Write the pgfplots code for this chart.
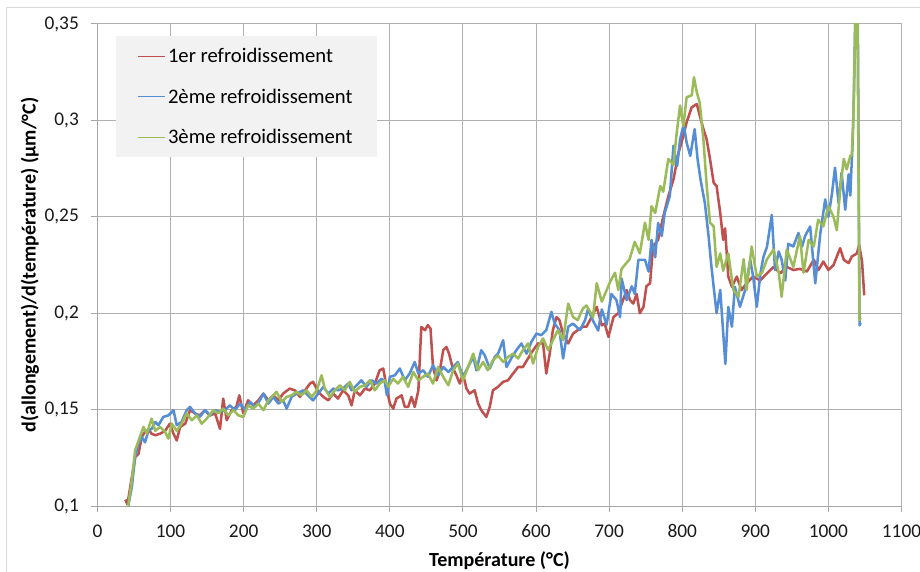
\documentclass[border=0pt]{standalone}
\usepackage{pgfplots}
\pgfplotsset{compat=1.18}
\usepackage{fontspec}
\setmainfont{Carlito}
\definecolor{cred}{HTML}{C0504D}
\definecolor{cblue}{HTML}{558ED5}
\definecolor{cgreen}{HTML}{9BBB59}
\definecolor{gridgray}{HTML}{B0B0B0}
\definecolor{axisgray}{HTML}{A6A6A6}
\definecolor{legendgray}{HTML}{F2F2F2}
\definecolor{bordergray}{HTML}{D9D9D9}
\begin{document}
\begin{tikzpicture}
\useasboundingbox (-73.125pt,-48.75pt) rectangle (616.875pt,379.5pt);
\draw[bordergray, line width=0.75pt] (-67.9pt,-60pt) -- (-67.9pt,373.5pt) -- (640pt,373.5pt);
\begin{axis}[
  at={(0,0)}, anchor=south west,
  scale only axis, width=603pt, height=361.5pt,
  xmin=0, xmax=1100, ymin=0.1, ymax=0.35,
  axis lines=left,
  axis line style={draw=axisgray, line width=0.75pt, -},
  xtick={0,100,...,1100},
  ytick={0.1,0.15,0.2,0.25,0.3,0.35},
  yticklabels={{0,1},{0,15},{0,2},{0,25},{0,3},{0,35}},
  /pgf/number format/assume math mode=true,
  /pgf/number format/1000 sep={},
  tick align=outside,
  major tick length=4.5pt,
  tick style={draw=axisgray, line width=0.75pt},
  grid=major,
  major grid style={draw=gridgray, line width=0.75pt},
  tick label style={font=\fontsize{14.5}{17}\selectfont, text=black!90},
  xticklabel style={yshift=-6pt},
  yticklabel style={xshift=-6pt},
  xlabel={\textbf{Température (°C)}},
  ylabel={\textbf{d(allongement)/d(température) (µm/°C)}},
  label style={font=\fontsize{15}{18}\selectfont},
  xlabel style={at={(axis description cs:0.5,-0.114)}, anchor=center},
  ylabel style={at={(axis description cs:-0.084,0.5)}, anchor=center},
  legend style={at={(0.023,0.975)}, anchor=north west, fill=legendgray, draw=none,
    font=\fontsize{15.5}{18}\selectfont, inner xsep=16pt, inner ysep=7pt, row sep=14pt},
  legend cell align=left,
  legend image code/.code={\draw[#1, line width=0.9pt] (0cm,0cm) -- (0.7cm,0cm);},
  every axis plot/.append style={line width=1.9pt, line join=round},
]
\addplot[cred] table {
38 0.1033
41 0.1009
44 0.108
47 0.115
51.5 0.1254
56 0.127
60.6 0.1358
65 0.1384
70 0.1395
74 0.1375
79 0.1367
85.6 0.1375
92.5 0.139
99 0.1427
104 0.1375
108.4 0.134
113 0.141
120 0.1427
126.6 0.1497
133.5 0.148
140 0.147
147 0.1497
154 0.147
161 0.148
167.6 0.140
172 0.1557
176.8 0.1445
183.6 0.1497
190 0.1514
194 0.1574
199.5 0.148
206 0.1548
213 0.1522
220 0.1548
227 0.1583
233.7 0.1548
240.5 0.1574
247.4 0.1548
254 0.1583
263 0.1609
270 0.160
277 0.1566
284 0.160
290.7 0.1635
295 0.1644
302 0.1592
309 0.1566
315.7 0.1548
322.5 0.1583
329 0.1557
336 0.160
343 0.1574
347.6 0.1522
352 0.160
359 0.1574
366 0.1609
372.7 0.160
379.5 0.1635
386 0.1704
391 0.1713
395.4 0.1618
400 0.1531
404.6 0.1505
409 0.1557
416 0.1574
420.5 0.1514
425 0.1514
429.6 0.1566
434 0.1514
439 0.160
443 0.1929
448 0.1912
452 0.1938
455.6 0.192
459 0.1721
463.8 0.1652
468 0.1695
473 0.1808
477.4 0.1825
481 0.179
485.6 0.1721
491 0.1678
495.7 0.1635
500 0.1687
504.8 0.1609
509 0.1583
516 0.160
520.7 0.1531
525 0.1497
532 0.1462
536.7 0.1514
541 0.160
548 0.1618
555 0.1644
561.7 0.1652
568.6 0.1687
575.4 0.1721
582 0.1721
589 0.1765
596 0.1808
602.7 0.1843
609.6 0.1843
614 0.1687
618.7 0.179
623 0.1912
628 0.198
632 0.1964
637 0.1894
644 0.1843
650.6 0.1894
657 0.1912
664 0.193
669 0.193
676 0.198
683 0.2033
690 0.1937
694 0.1946
699 0.1877
706 0.198
712.5 0.200
719 0.2068
724 0.212
728.5 0.2068
733 0.205
737.6 0.210
742 0.200
747 0.2033
751 0.214
756 0.2155
760 0.2346
767 0.238
774 0.250
781 0.2607
788 0.2694
795 0.2833
801.5 0.292
806 0.299
813 0.3068
820 0.3085
824 0.3024
829 0.2955
833.5 0.290
838 0.280
843 0.2676
847 0.266
852 0.252
856 0.238
858.6 0.244
863 0.219
868 0.2137
874.6 0.219
881 0.212
888 0.2155
897 0.219
906.6 0.217
916 0.2207
925 0.224
934 0.2207
943 0.224
952 0.2224
961 0.223
970.5 0.2216
980 0.2277
986.5 0.2224
993 0.2268
1000 0.2224
1007 0.225
1016 0.2337
1021 0.2277
1027.6 0.226
1032 0.2294
1039 0.231
1042 0.2355
1046 0.2268
1049 0.2093
};
\addlegendentry{1er refroidissement}
\addplot[cblue] table {
42 0.100
47 0.1099
51.5 0.1254
56 0.1324
60.6 0.1358
65 0.133
69.7 0.139
74 0.140
79 0.1436
83.4 0.1419
90 0.1462
97 0.147
104 0.1497
108.4 0.1419
115 0.1436
122 0.1497
126.6 0.1514
133.5 0.148
140 0.1462
147 0.1497
154 0.147
161 0.1497
167.6 0.1488
174.5 0.1497
181 0.1522
188 0.1497
195 0.1531
202 0.1497
208.7 0.154
215.5 0.1514
222 0.1548
227 0.1583
233.7 0.1531
240.5 0.1566
247.4 0.1531
254 0.1548
258.8 0.1505
265.6 0.1566
272.4 0.1583
281.5 0.160
288 0.1574
295 0.1548
302 0.1583
309 0.1618
315.7 0.1583
322.5 0.1609
329 0.160
336 0.1609
343 0.1635
347.6 0.160
354.5 0.1626
361 0.1652
368 0.1618
375 0.1652
381.8 0.1635
388.6 0.166
393 0.1644
396 0.1574
400 0.167
406.8 0.1678
413.6 0.1713
420.5 0.1652
427 0.1687
434 0.1747
439 0.1687
445.6 0.1704
452 0.167
459 0.173
466 0.1678
473 0.1721
480 0.1695
486.6 0.1721
493 0.1747
500 0.167
507 0.1721
514 0.1773
518.5 0.1704
525 0.1808
530 0.178
536.7 0.1713
543.5 0.1773
548 0.179
555 0.186
559.5 0.1721
566 0.1765
573 0.1808
580 0.1843
587 0.179
593.6 0.1851
600.5 0.1894
607 0.1886
614 0.1912
621 0.2007
625.5 0.1946
632 0.1912
637 0.1765
644 0.193
650.6 0.1946
660 0.1912
667 0.1963
671 0.202
678 0.196
685 0.191
690 0.202
696.5 0.194
703 0.210
710 0.2068
715 0.198
717 0.218
724 0.2068
731 0.214
735 0.210
740 0.2277
749 0.2277
754 0.2216
758 0.238
763 0.229
767 0.2468
772 0.240
776 0.252
783 0.2607
788 0.2868
793 0.2763
797 0.290
802 0.298
806 0.2885
811 0.2816
817 0.2955
821 0.280
825 0.2694
831 0.257
836 0.240
840 0.224
847 0.200
852 0.212
859 0.1737
863 0.2033
868 0.193
872 0.2137
879 0.2033
886 0.212
893 0.2277
897 0.219
902 0.2033
907 0.2207
911 0.229
916 0.2346
922.5 0.251
927 0.2224
932 0.232
936 0.2277
941 0.217
945 0.236
952 0.2346
959 0.2416
964 0.2346
968 0.240
975 0.245
982 0.2155
989 0.2416
995.6 0.259
1000 0.250
1005 0.2624
1009 0.2755
1014 0.257
1018 0.2729
1023 0.2537
1027.6 0.272
1030 0.261
1031 0.271
1033 0.287
1035 0.315
1037.5 0.37
1040 0.37
1042.6 0.1937
1044 0.1950
};
\addlegendentry{2ème refroidissement}
\addplot[cgreen] table {
42 0.100
47 0.1133
51.5 0.1289
58 0.1358
63 0.141
67.4 0.1375
74 0.1453
79 0.139
85.6 0.141
92.5 0.1384
97 0.135
101.6 0.1427
108.4 0.139
115 0.1427
122 0.148
129 0.1445
135.8 0.147
142.6 0.1427
149.4 0.1453
158.5 0.1497
165 0.148
172 0.1505
179 0.147
186 0.1497
192.7 0.147
199.5 0.1462
206 0.1522
213 0.1505
220 0.1531
227 0.1497
233.7 0.1548
240.5 0.1574
245 0.1592
252 0.154
258.8 0.1566
265.6 0.1574
272.4 0.1592
279 0.1574
286 0.160
293 0.1566
300 0.160
306.6 0.1678
311 0.1609
318 0.1566
324.8 0.160
331.7 0.1626
338.5 0.160
345 0.1644
352 0.1592
359 0.1618
366 0.1626
372.7 0.1652
379.5 0.160
386 0.1635
393 0.1652
397.7 0.1618
404.6 0.166
411 0.1635
418 0.167
425 0.1618
432 0.1695
439 0.1652
445.6 0.167
452 0.1687
459 0.1635
466 0.1721
473 0.167
480 0.1626
486.6 0.1704
493 0.1739
500 0.1652
507 0.1721
514 0.179
520.7 0.1704
527.6 0.1747
534 0.1704
541 0.1756
548 0.178
555 0.1747
561.7 0.1773
568.6 0.179
575.4 0.1765
582 0.1808
589 0.1843
596 0.1739
602.7 0.1825
609.6 0.1869
616.6 0.1808
623 0.186
630 0.1912
637 0.186
644 0.205
650.6 0.198
657 0.1964
664 0.2024
669 0.204
678 0.198
683 0.2155
690 0.206
701 0.216
708 0.221
712.5 0.212
717 0.223
728 0.228
735 0.237
742 0.231
749 0.247
754 0.238
758 0.2555
763 0.252
770 0.266
774 0.263
781 0.280
788 0.277
792 0.292
797 0.3077
801.5 0.297
806 0.312
813 0.313
816 0.3224
820 0.3146
824 0.309
829 0.290
833.5 0.266
838 0.247
843 0.245
847 0.224
852 0.231
856 0.222
863 0.231
870 0.212
877 0.2085
884 0.228
888 0.212
895 0.2346
902 0.219
909 0.221
916 0.228
925 0.233
932 0.221
936 0.2085
943 0.233
952 0.224
961 0.240
966 0.221
973 0.238
980 0.2346
986 0.2485
993 0.245
1000 0.2555
1007 0.250
1011.5 0.243
1016 0.264
1021 0.280
1025 0.2746
1030 0.2816
1032 0.2819
1034 0.2992
1036 0.337
1037.5 0.37
1039.5 0.37
1042.5 0.1963
1044 0.1975
};
\addlegendentry{3ème refroidissement}
\end{axis}
\end{tikzpicture}
\end{document}
